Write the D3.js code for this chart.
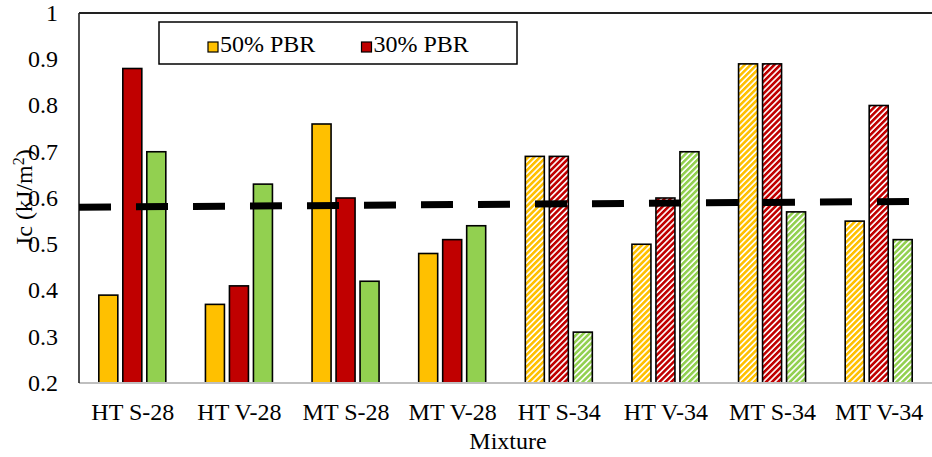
<!DOCTYPE html>
<html>
<head>
<meta charset="utf-8">
<script src="https://cdn.jsdelivr.net/npm/d3@7"></script>
<style>
	body { margin: 0; background: white; }
	text { font-family: "Liberation Serif", "Times New Roman", serif; fill: #000; }
</style>
</head>
<body>
<div id="chart"></div>
<script>
// categories on the x axis
let mixtures = ['HT S-28', 'HT V-28', 'MT S-28', 'MT V-28', 'HT S-34', 'HT V-34', 'MT S-34', 'MT V-34'];
// series values (Ic, kJ/m2)
let pbr50 = [0.39, 0.37, 0.76, 0.48, 0.69, 0.50, 0.89, 0.55];
let pbr30 = [0.88, 0.41, 0.60, 0.51, 0.69, 0.60, 0.89, 0.80];
let third = [0.70, 0.63, 0.42, 0.54, 0.31, 0.70, 0.57, 0.51];
// the last four mixtures are drawn hatched
let hatched = [false, false, false, false, true, true, true, true];
// dashed trend line, value at left and right end of the plot
let trendValues = [0.580, 0.593];
let yTicks = [0.2, 0.3, 0.4, 0.5, 0.6, 0.7, 0.8, 0.9, 1];
let legendNames = ['50% PBR', '30% PBR'];

let seriesKeys = ['pbr50', 'pbr30', 'third'];
let colors = d3.scaleOrdinal()
	.domain(seriesKeys)
	.range(['#ffc000', '#c00000', '#92d050']);

let width = 932,
	height = 457,
	margin = { top: 13, right: 0, bottom: 74, left: 79 };

let svg = d3.select('#chart')
	.append('svg')
	.attr('width', width)
	.attr('height', height)
	.style('background', 'white');

// hatch patterns, one per colour
let defs = svg.append('defs');
seriesKeys.forEach(function (k) {
	let p = defs.append('pattern')
		.attr('id', 'hatch-' + k)
		.attr('patternUnits', 'userSpaceOnUse')
		.attr('width', 4.2)
		.attr('height', 4.2)
		.attr('patternTransform', 'rotate(45)');
	p.append('rect')
		.attr('width', 4.2)
		.attr('height', 4.2)
		.attr('fill', 'white');
	p.append('rect')
		.attr('width', 2.6)
		.attr('height', 4.2)
		.attr('fill', colors(k));
});

let x0 = d3.scaleBand()
	.domain(mixtures)
	.range([margin.left, width - margin.right])
	.padding(0);

let x1 = d3.scaleBand()
	.domain(seriesKeys)
	.range([-33.5, 33.5])
	.paddingInner(5 / 24)
	.paddingOuter(0);

let y = d3.scaleLinear()
	.domain([0.2, 1])
	.range([height - margin.bottom, margin.top]);

// rows for the bars
let rows = mixtures.map(function (m, i) {
	return {
		mixture: m,
		hatched: hatched[i],
		values: [
			{ key: 'pbr50', v: pbr50[i] },
			{ key: 'pbr30', v: pbr30[i] },
			{ key: 'third', v: third[i] }
		]
	};
});

// bars
let groups = svg.selectAll('g.group')
	.data(rows)
	.enter()
	.append('g')
	.attr('class', 'group')
	.attr('transform', function (d) { return 'translate(' + (x0(d.mixture) + x0.bandwidth() / 2) + ',0)'; });

groups.selectAll('rect')
	.data(function (d) { return d.values.map(function (v) { return { key: v.key, v: v.v, hatched: d.hatched }; }); })
	.enter()
	.append('rect')
	.attr('x', function (d) { return x1(d.key); })
	.attr('y', function (d) { return y(d.v); })
	.attr('width', x1.bandwidth())
	.attr('height', function (d) { return y(0.2) - y(d.v); })
	.attr('fill', function (d) { return d.hatched ? 'url(#hatch-' + d.key + ')' : colors(d.key); })
	.attr('stroke', 'black')
	.style('stroke-width', '1.6px');

// bottom axis line (grey)
svg.append('line')
	.attr('x1', margin.left)
	.attr('x2', width)
	.attr('y1', y(0.2))
	.attr('y2', y(0.2))
	.attr('stroke', '#bfbfbf')
	.style('stroke-width', '2px');

// left and top frame lines
svg.append('line')
	.attr('x1', margin.left)
	.attr('x2', margin.left)
	.attr('y1', y(1))
	.attr('y2', y(0.2))
	.attr('stroke', 'black')
	.style('stroke-width', '1.4px');

svg.append('line')
	.attr('x1', margin.left)
	.attr('x2', width)
	.attr('y1', y(1))
	.attr('y2', y(1))
	.attr('stroke', '#222')
	.style('stroke-width', '1.8px');

// dashed trend line
svg.append('line')
	.attr('x1', margin.left)
	.attr('x2', width - margin.right)
	.attr('y1', y(trendValues[0]))
	.attr('y2', y(trendValues[1]))
	.attr('stroke', 'black')
	.style('stroke-width', '7px')
	.style('stroke-dasharray', '32,25');

// y tick labels
svg.selectAll('text.ytick')
	.data(yTicks)
	.enter()
	.append('text')
	.attr('class', 'ytick')
	.attr('x', 58)
	.attr('y', function (d) { return y(d); })
	.attr('dy', '0.33em')
	.attr('text-anchor', 'end')
	.style('font-size', '24px')
	.text(function (d) { return d3.format('~g')(d); });

// x tick labels
svg.selectAll('text.xtick')
	.data(mixtures)
	.enter()
	.append('text')
	.attr('class', 'xtick')
	.attr('x', function (d) { return x0(d) + x0.bandwidth() / 2 + 0.5; })
	.attr('y', 420)
	.attr('text-anchor', 'middle')
	.style('font-size', '24px')
	.text(function (d) { return d; });

// axis titles
svg.append('text')
	.attr('x', 508)
	.attr('y', 449)
	.attr('text-anchor', 'middle')
	.style('font-size', '24px')
	.text('Mixture');

let yTitle = svg.append('text')
	.attr('transform', 'translate(32,197) rotate(-90)')
	.attr('text-anchor', 'middle')
	.style('font-size', '24px');
yTitle.append('tspan').text('Ic (kJ/m');
yTitle.append('tspan')
	.attr('baseline-shift', 'super')
	.style('font-size', '16px')
	.text('2');
yTitle.append('tspan').text(')');

// legend
svg.append('rect')
	.attr('x', 159)
	.attr('y', 22)
	.attr('width', 358)
	.attr('height', 42)
	.attr('fill', 'white')
	.attr('stroke', 'black')
	.style('stroke-width', '1.5px');

let legendX = [208, 361.5];
svg.selectAll('rect.legsq')
	.data(legendNames)
	.enter()
	.append('rect')
	.attr('class', 'legsq')
	.attr('x', function (d, i) { return legendX[i]; })
	.attr('y', 42)
	.attr('width', 10)
	.attr('height', 10)
	.attr('fill', function (d, i) { return colors(seriesKeys[i]); })
	.attr('stroke', 'black')
	.style('stroke-width', '1.2px');

svg.selectAll('text.leg')
	.data(legendNames)
	.enter()
	.append('text')
	.attr('class', 'leg')
	.attr('x', function (d, i) { return legendX[i] + 12; })
	.attr('y', 52)
	.style('font-size', '24px')
	.text(function (d) { return d; });
</script>
</body>
</html>
